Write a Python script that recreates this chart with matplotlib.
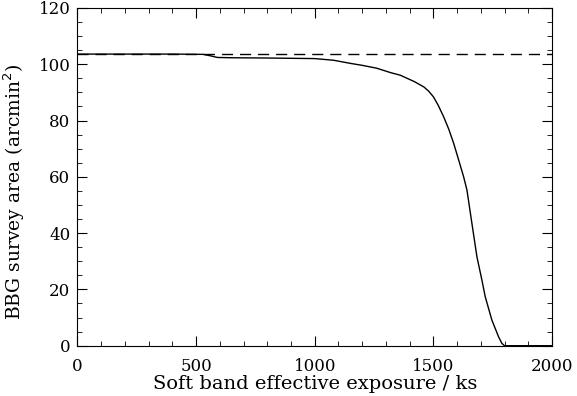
import matplotlib
matplotlib.use("Agg")
import matplotlib.pyplot as plt
from matplotlib.ticker import MultipleLocator

# exposure (ks) vs survey area (arcmin^2)
exposure = [0, 200, 400, 530, 560, 590, 650, 800, 1000, 1080, 1150, 1200, 1260, 1320,
            1360, 1420, 1460, 1480, 1500, 1520, 1543, 1565, 1585, 1605, 1627, 1641,
            1662, 1683, 1704, 1718, 1746, 1774, 1788, 1799, 2000]
area = [103.6, 103.6, 103.6, 103.5, 103.0, 102.4, 102.3, 102.2, 102.0, 101.4, 100.3,
        99.6, 98.6, 97.0, 96.1, 93.8, 91.9, 90.4, 88.4, 85.4, 81.3, 76.8, 71.9, 66.3,
        60.0, 55.3, 43.4, 31.6, 23.3, 17.4, 9.1, 3.2, 0.85, 0.0, 0.0]
full_area = 103.6

plt.rcParams['font.family'] = ['DejaVu Serif']
fig = plt.figure(figsize=(5.77, 3.96), dpi=100)
ax = fig.add_axes([0.134, 0.127, 0.823, 0.853])

ax.plot(exposure, area, color='black', lw=1)
ax.axhline(full_area, color='black', lw=1, ls=(0, (8, 5)))

ax.set_xlim(0, 2000)
ax.set_ylim(0, 120)
ax.xaxis.set_major_locator(MultipleLocator(500))
ax.xaxis.set_minor_locator(MultipleLocator(100))
ax.yaxis.set_major_locator(MultipleLocator(20))
ax.yaxis.set_minor_locator(MultipleLocator(5))
ax.tick_params(which='both', direction='in', top=True, right=True, labelsize=12)
ax.tick_params(which='major', length=7)
ax.tick_params(which='minor', length=3.5)
ax.tick_params(axis='x', pad=9)
ax.tick_params(axis='y', pad=5)
ax.set_xlabel('Soft band effective exposure / ks', fontsize=14, labelpad=0)
ax.set_ylabel('BBG survey area (arcmin$^2$)', fontsize=13.5)
ax.yaxis.set_label_coords(-0.107, 0.455)

fig.savefig('out.png', dpi=100)
